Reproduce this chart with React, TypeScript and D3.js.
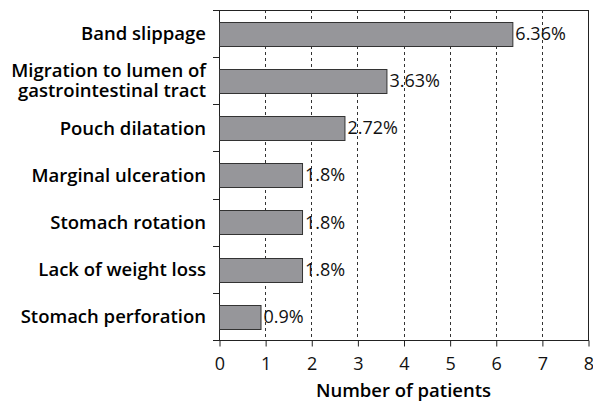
import React, { useEffect, useRef } from 'react';
import * as d3 from 'd3';

// data
const categories = [
  'Band slippage',
  'Migration to lumen of|gastrointestinal tract',
  'Pouch dilatation',
  'Marginal ulceration',
  'Stomach rotation',
  'Lack of weight loss',
  'Stomach perforation',
];
const values = [6.36, 3.63, 2.72, 1.8, 1.8, 1.8, 0.9];
const valueLabels = ['6.36%', '3.63%', '2.72%', '1.8%', '1.8%', '1.8%', '0.9%'];
const xTicks = [0, 1, 2, 3, 4, 5, 6, 7, 8];
const xTitle = 'Number of patients';

const width = 593;
const height = 408;
const margin = { top: 10, right: 5, bottom: 68, left: 219 };
const font = '"Open Sans", "DejaVu Sans", sans-serif';

const App = () => {
  const node = useRef<SVGSVGElement | null>(null);

  useEffect(() => {
    const svg = d3.select(node.current);
    svg.selectAll('*').remove();

    const w = width - margin.left - margin.right;
    const h = height - margin.top - margin.bottom;

    const main = svg.append('g')
      .attr('transform', `translate(${margin.left}, ${margin.top})`);

    const xScale = d3.scaleLinear().domain([0, 8]).range([0, w]);
    const yScale = d3.scaleBand<number>()
      .domain(d3.range(categories.length))
      .range([0, h])
      .paddingInner(0.5)
      .paddingOuter(0.25);

    // dotted grid
    main.append('g')
      .selectAll('line')
      .data(xTicks.filter(d => d > 0 && d < 8))
      .enter()
      .append('line')
      .attr('x1', d => Math.round(xScale(d)) + 0.5)
      .attr('x2', d => Math.round(xScale(d)) + 0.5)
      .attr('y1', 0)
      .attr('y2', h)
      .attr('stroke', '#333')
      .attr('stroke-width', 1)
      .attr('stroke-dasharray', '3,3');

    // frame
    main.append('rect')
      .attr('x', 0.5)
      .attr('y', 0.5)
      .attr('width', w)
      .attr('height', h)
      .attr('fill', 'none')
      .attr('stroke', '#222')
      .attr('stroke-width', 1);

    // bars
    main.selectAll('rect.bar')
      .data(values)
      .enter()
      .append('rect')
      .attr('class', 'bar')
      .attr('x', xScale(0) + 0.5)
      .attr('y', (d, i) => Math.round(yScale(i)!) + 0.5)
      .attr('width', d => xScale(d) - xScale(0))
      .attr('height', Math.round(yScale.bandwidth()))
      .attr('fill', '#96969a')
      .attr('stroke', '#333')
      .attr('stroke-width', 1);

    // value labels
    main.selectAll('text.val')
      .data(values)
      .enter()
      .append('text')
      .attr('class', 'val')
      .attr('x', d => xScale(d) + 3)
      .attr('y', (d, i) => yScale(i)! + yScale.bandwidth() / 2)
      .attr('dy', '0.36em')
      .attr('font-family', font)
      .attr('font-weight', 400)
      .attr('font-size', 18)
      .attr('fill', '#111')
      .text((d, i) => valueLabels[i]);

    // left ticks at category boundaries
    const step = h / categories.length;
    main.append('g')
      .selectAll('line')
      .data(d3.range(categories.length + 1))
      .enter()
      .append('line')
      .attr('x1', -6)
      .attr('x2', 0)
      .attr('y1', d => Math.round(d * step) + 0.5)
      .attr('y2', d => Math.round(d * step) + 0.5)
      .attr('stroke', '#222');

    // category labels
    const labels = main.append('g')
      .selectAll('text')
      .data(categories)
      .enter()
      .append('text')
      .attr('y', (d, i) => yScale(i)! + yScale.bandwidth() / 2)
      .attr('text-anchor', 'end')
      .attr('font-family', font)
      .attr('font-weight', 600)
      .attr('font-size', 18.5)
      .attr('fill', '#000');

    labels.each(function (d) {
      const lines = d.split('|');
      const t = d3.select(this);
      lines.forEach((line, j) => {
        t.append('tspan')
          .attr('x', -13)
          .attr('dy', j === 0 ? `${0.36 - (lines.length - 1) * 0.54}em` : '1.08em')
          .text(line);
      });
    });

    // x axis
    const xAxisGroup = main.append('g')
      .attr('transform', `translate(0.5, ${h + 0.5})`)
      .call(d3.axisBottom(xScale).tickValues(xTicks).tickSize(6).tickSizeOuter(0).tickPadding(11));
    xAxisGroup.select('.domain').remove();
    xAxisGroup.selectAll('line').attr('stroke', '#222');
    xAxisGroup.selectAll('text')
      .attr('font-family', font)
      .attr('font-weight', 400)
      .attr('font-size', 18)
      .attr('fill', '#111');

    // axis title
    main.append('text')
      .attr('x', w / 2)
      .attr('y', h + 57)
      .attr('text-anchor', 'middle')
      .attr('font-family', font)
      .attr('font-weight', 600)
      .attr('font-size', 18.5)
      .attr('fill', '#000')
      .text(xTitle);
  }, []);

  return (
    <svg
      ref={node}
      width={width}
      height={height}
      style={{ position: 'absolute', left: 0, top: 0, background: '#fff' }}
    />
  );
};

export default App;
